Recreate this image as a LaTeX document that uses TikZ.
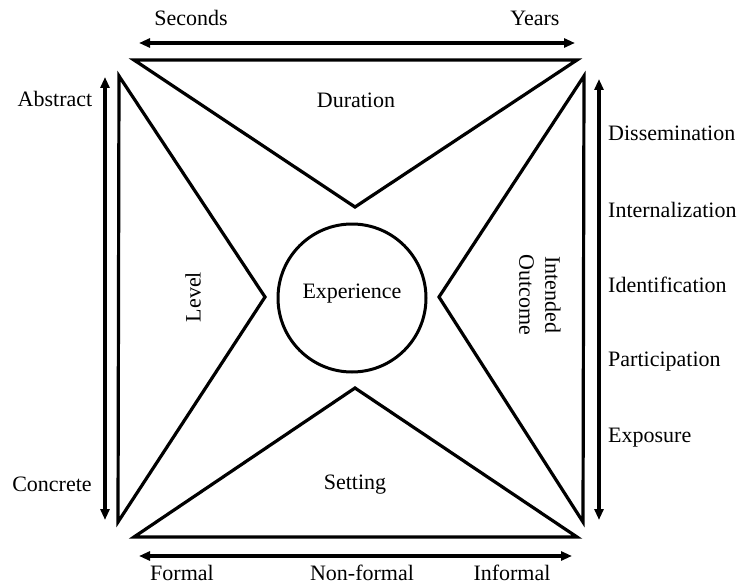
\documentclass[tikz,border=0pt]{standalone}
\usepackage{fontspec}
\setmainfont{Liberation Serif}
\usetikzlibrary{arrows.meta}
\begin{document}
\begin{tikzpicture}[x=1pt,y=-1pt,
  shape line/.style={line width=3.2pt,line join=miter},
  axis/.style={line width=3.2pt,{Triangle[length=11pt,width=9pt]}-{Triangle[length=11pt,width=9pt]}},
  lbl/.style={font=\fontsize{22}{26}\selectfont,inner sep=0pt},
  rlbl/.style={lbl,anchor=west},
  blbl/.style={lbl,anchor=base}]
\useasboundingbox (0,0) rectangle (742,586);
% vertices
\coordinate (tl) at (134,60);
\coordinate (tr) at (577,60);
\coordinate (tapex) at (355,207);
\coordinate (lt) at (119,76);
\coordinate (lb) at (118,522);
\coordinate (lapex) at (265,297);
\coordinate (rt) at (584,76);
\coordinate (rb) at (583,522);
\coordinate (rapex) at (439,297);
\coordinate (bl) at (134,537);
\coordinate (br) at (577,537);
\coordinate (bapex) at (355,388);
% triangles
\draw[shape line] (tl) -- (tr) -- (tapex) -- cycle;
\draw[shape line] (lt) -- (lapex) -- (lb) -- cycle;
\draw[shape line] (rt) -- (rb) -- (rapex) -- cycle;
\draw[shape line] (bl) -- (br) -- (bapex) -- cycle;
% circle
\node[circle,draw,line width=3pt,minimum size=148pt,inner sep=0pt] (exp) at (352,298) {};
\node[lbl] (exptext) at (352,294) {Experience};
% axis end points
\coordinate (ta1) at (139,43);
\coordinate (ta2) at (575,43);
\coordinate (la1) at (105,77);
\coordinate (la2) at (105,520);
\coordinate (ra1) at (599,79);
\coordinate (ra2) at (599,520);
\coordinate (ba1) at (139,556);
\coordinate (ba2) at (572,556);
\draw[axis] (ta1) -- (ta2);
\draw[axis] (la1) -- (la2);
\draw[axis] (ra1) -- (ra2);
\draw[axis] (ba1) -- (ba2);
% labels
\node[lbl] (seconds) at (191,18) {Seconds};
\node[lbl] (years) at (535,18) {Years};
\node[lbl] (abstract) at (55,99) {Abstract};
\node[lbl] (concrete) at (52,484) {Concrete};
\node[lbl] (duration) at (356,100) {Duration};
\node[lbl,rotate=90] (level) at (193,297) {Level};
\node[lbl,rotate=-90,align=center] (outcome) at (540,295) {Intended\\Outcome};
\node[lbl] (setting) at (355,485) {Setting};
\node[blbl] (formal) at (182,580) {Formal};
\node[blbl] (nonformal) at (362,580) {Non-formal};
\node[blbl] (informal) at (512,580) {Informal};
\node[rlbl] (diss) at (608,133) {Dissemination};
\node[rlbl] (intern) at (608,210) {Internalization};
\node[rlbl] (ident) at (608,285) {Identification};
\node[rlbl] (partic) at (608,362) {Participation};
\node[rlbl] (expo) at (608,438) {Exposure};
\end{tikzpicture}
\end{document}
